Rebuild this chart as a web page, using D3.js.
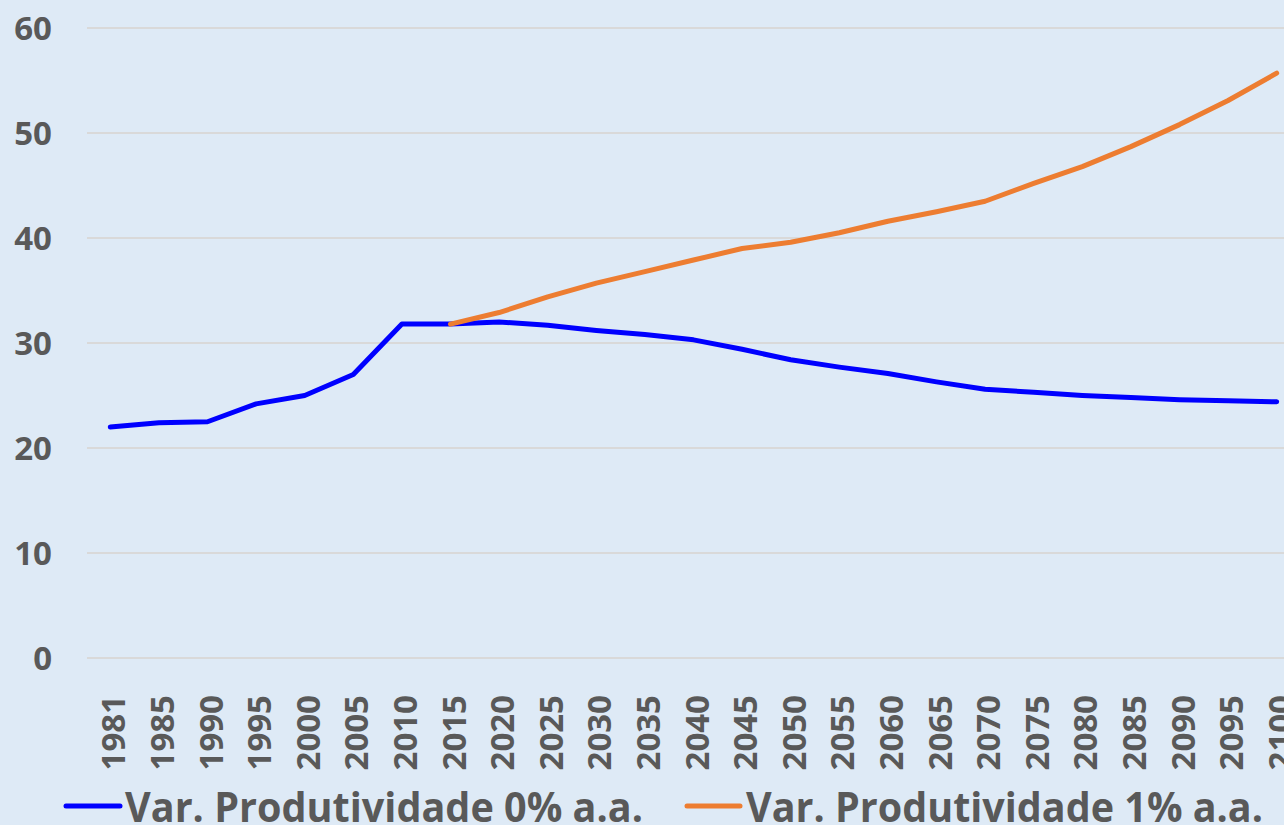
<!DOCTYPE html>
<html><head><meta charset="utf-8">
<script src="https://cdn.jsdelivr.net/npm/d3@7"></script>
<style>
html,body{margin:0;padding:0;background:#DEEAF6;overflow:hidden;}
svg{display:block;}
text{font-family:"Open Sans",sans-serif;font-weight:700;fill:#595959;}
</style></head>
<body>
<svg id="chart" width="1284" height="825"></svg>
<script>
const years = ["1981","1985","1990","1995","2000","2005","2010","2015","2020","2025","2030","2035","2040","2045","2050","2055","2060","2065","2070","2075","2080","2085","2090","2095","2100"];
const serie0 = [22.0,22.4,22.5,24.2,25.0,27.0,31.8,31.8,32.0,31.7,31.2,30.8,30.3,29.4,28.4,27.7,27.1,26.3,25.6,25.3,25.0,24.8,24.6,24.5,24.4];
const serie1 = [null,null,null,null,null,null,null,31.8,32.9,34.4,35.7,36.8,37.9,39.0,39.6,40.5,41.6,42.5,43.5,45.2,46.8,48.7,50.8,53.1,55.7];
const yTicks = [0,10,20,30,40,50,60];
const seriesNames = ["Var. Produtividade 0% a.a.","Var. Produtividade 1% a.a."];
const colors = ["#0000FF","#ED7D31"];

const svg = d3.select("#chart");
svg.append("rect").attr("width",1284).attr("height",825).attr("fill","#DEEAF6");

const x = d3.scaleBand().domain(years).range([86, 86 + 25*48.6]);
const y = d3.scaleLinear().domain([0,60]).range([658, 28]);
const cx = d => x(d) + x.bandwidth()/2;

// gridlines
svg.append("g").selectAll("line").data(yTicks).join("line")
  .attr("x1",87).attr("x2",1284)
  .attr("y1",d=>y(d)).attr("y2",d=>y(d))
  .attr("stroke","#D9D9D9").attr("stroke-width",2);

// y labels
svg.append("g").selectAll("text").data(yTicks).join("text")
  .attr("x",52).attr("y",d=>y(d)).attr("dy","0.36em")
  .attr("text-anchor","end").attr("font-size",33)
  .text(d=>d);

// x labels
svg.append("g").selectAll("text").data(years).join("text")
  .attr("transform",d=>`translate(${cx(d)+15},695) rotate(-90)`)
  .attr("text-anchor","end").attr("font-size",33)
  .text(d=>d);

const line = d3.line()
  .defined(d=>d.v!==null)
  .x(d=>cx(d.year)).y(d=>y(d.v));

[serie0, serie1].forEach((s,i)=>{
  const pts = years.map((yr,j)=>({year:yr, v:s[j]}));
  svg.append("path").datum(pts)
    .attr("d",line).attr("fill","none")
    .attr("stroke",colors[i]).attr("stroke-width",5)
    .attr("stroke-linejoin","round").attr("stroke-linecap","round");
});

// legend
const legendItems = [
  {x1:66,x2:120,tx:125,tw:518},
  {x1:687,x2:740,tx:746,tw:517}
];
legendItems.forEach((L,i)=>{
  svg.append("line").attr("x1",L.x1).attr("x2",L.x2).attr("y1",806).attr("y2",806)
    .attr("stroke",colors[i]).attr("stroke-width",5).attr("stroke-linecap","round");
  svg.append("text").attr("x",L.tx).attr("y",822).attr("font-size",42)
    .attr("textLength",L.tw).attr("lengthAdjust","spacingAndGlyphs")
    .text(seriesNames[i]);
});
</script>
</body></html>
